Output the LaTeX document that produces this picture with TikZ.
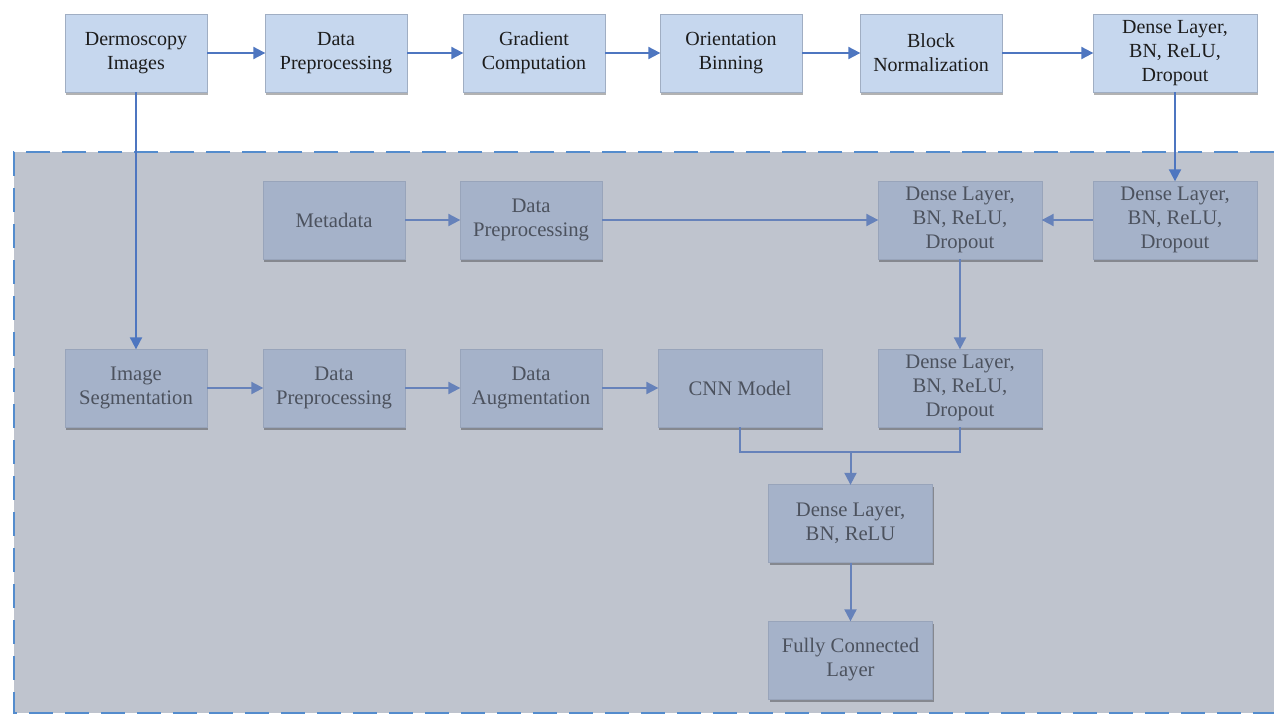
\documentclass[tikz,border=0pt]{standalone}
\usepackage{fontspec}
\setmainfont{Liberation Serif}
\usetikzlibrary{arrows.meta,shadows}
\definecolor{topfill}{RGB}{198,215,238}
\definecolor{topdraw}{RGB}{160,174,195}
\definecolor{boxfill}{RGB}{165,178,201}
\definecolor{boxdraw}{RGB}{152,164,186}
\definecolor{regionfill}{RGB}{191,196,206}
\definecolor{regiondash}{RGB}{84,140,205}
\definecolor{toparrow}{RGB}{78,118,192}
\definecolor{innerarrow}{RGB}{102,130,186}
\definecolor{toptext}{RGB}{28,28,28}
\definecolor{innertext}{RGB}{76,82,94}

\begin{document}
\begin{tikzpicture}[x=0.75pt,y=-0.75pt,
  base/.style={rectangle, minimum height=58.5pt, align=center, inner sep=2pt,
    drop shadow={shadow xshift=0.8pt, shadow yshift=-2.2pt, opacity=0.3, fill=black}},
  topbox/.style={base, fill=topfill, draw=topdraw, line width=0.5pt, text=toptext,
    minimum width=106.5pt, font=\fontsize{15}{18}\selectfont},
  widetop/.style={topbox, minimum width=123pt},
  inbox/.style={base, fill=boxfill, draw=boxdraw, line width=0.5pt, text=innertext,
    minimum width=106.5pt, font=\fontsize{15.5}{18}\selectfont},
  widein/.style={inbox, minimum width=123pt},
  toparr/.style={draw=toparrow, line width=1.5pt,
    -{Triangle[length=9pt,width=9pt]}, shorten >=-0.5pt},
  inarr/.style={draw=innerarrow, line width=1.5pt,
    -{Triangle[length=9pt,width=9pt]}, shorten >=-0.5pt},
  inline/.style={draw=innerarrow, line width=1.5pt},
  regionedge/.style={draw=regiondash, line width=2.2pt, dash pattern=on 18pt off 9pt}
]
\useasboundingbox (0,0) rectangle (1274,715);

% shaded region holding the fusion network
\fill[regionfill] (14,152) rectangle (1274,713);
\draw[regionedge] (1274,152) -- (14,152) -- (14,713) -- (1274,713);

% feature extraction pipeline along the top
\node[topbox] (dermo) at (136,53) {Dermoscopy\\Images};
\node[topbox] (prepA) at (336,53) {Data\\Preprocessing};
\node[topbox] (grad) at (534,53) {Gradient\\Computation};
\node[topbox] (orient) at (731,53) {Orientation\\Binning};
\node[topbox] (block) at (931,53) {Block\\Normalization};
\node[widetop] (denseT) at (1175,53) {Dense Layer,\\BN, ReLU,\\Dropout};

% metadata branch
\node[inbox] (meta) at (334,220) {Metadata};
\node[inbox] (prepB) at (531,220) {Data\\Preprocessing};
\node[widein] (denseM) at (960,220) {Dense Layer,\\BN, ReLU,\\Dropout};
\node[widein] (denseR) at (1175,220) {Dense Layer,\\BN, ReLU,\\Dropout};

% image branch
\node[inbox] (seg) at (136,388) {Image\\Segmentation};
\node[inbox] (prepC) at (334,388) {Data\\Preprocessing};
\node[inbox] (aug) at (531,388) {Data\\Augmentation};
\node[widein] (cnn) at (740,388) {CNN Model};
\node[widein] (denseL) at (960,388) {Dense Layer,\\BN, ReLU,\\Dropout};

% fusion head
\node[widein] (fuse) at (850.5,523.5) {Dense Layer,\\BN, ReLU};
\node[widein] (fc) at (850.5,660) {Fully Connected\\Layer};

\coordinate (join) at (850.5,452);

% connectors
\draw[toparr] (dermo) -- (prepA);
\draw[toparr] (prepA) -- (grad);
\draw[toparr] (grad) -- (orient);
\draw[toparr] (orient) -- (block);
\draw[toparr] (block) -- (denseT);
\draw[toparr] (dermo.south) -- (seg.north);
\draw[toparr] (denseT.south) -- (denseR.north);

\draw[inarr] (meta) -- (prepB);
\draw[inarr] (prepB) -- (denseM);
\draw[inarr] (denseR) -- (denseM);
\draw[inarr] (denseM.south) -- (denseL.north);

\draw[inarr] (seg) -- (prepC);
\draw[inarr] (prepC) -- (aug);
\draw[inarr] (aug) -- (cnn);

\draw[inline] (cnn.south) |- (join) -| (denseL.south);
\draw[inarr] (join) -- (fuse.north);
\draw[inarr] (fuse) -- (fc);
\end{tikzpicture}
\end{document}
